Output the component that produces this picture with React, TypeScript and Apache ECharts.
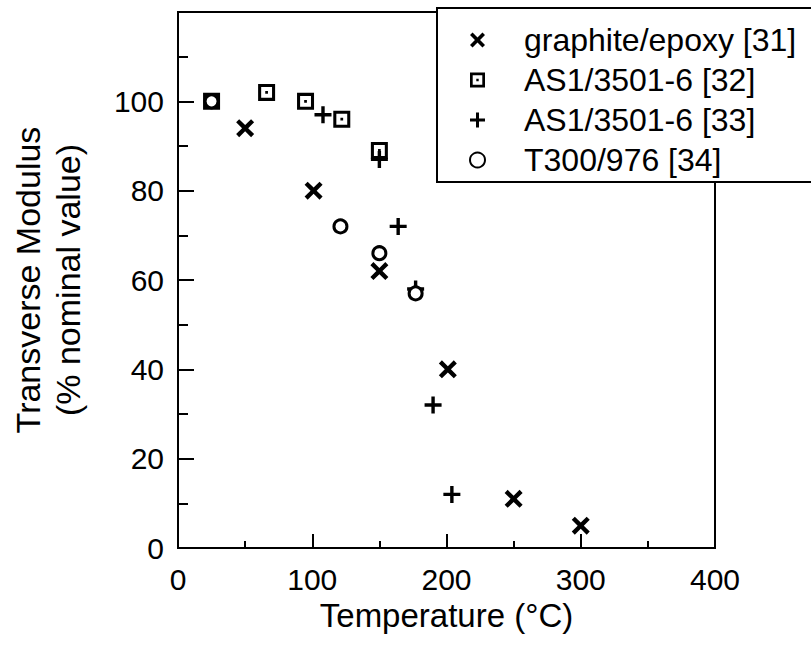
import React, { useEffect, useRef } from "react";
import * as echarts from "echarts";

const seriesNames = ["graphite/epoxy [31]", "AS1/3501-6 [32]", "AS1/3501-6 [33]", "T300/976 [34]"];
const graphiteEpoxy: [number, number][] = [[50, 94], [101, 80], [150, 62], [201, 40], [250, 11], [300, 5]];
const as1_32: [number, number][] = [[25, 100], [66, 102], [95, 100], [122, 96], [150, 89]];
const as1_33: [number, number][] = [[108, 97], [150, 87], [164, 72], [177, 58], [190, 32], [204, 12]];
const t300: [number, number][] = [[25, 100], [121, 72], [150, 66], [177, 57]];
const xTicks = [0, 100, 200, 300, 400];
const yTicks = [0, 20, 40, 60, 80, 100];

const FONT = "'Liberation Sans', Arial, Helvetica, sans-serif";

const X_PATH = "path://M0,17 L17,0 L50,33 L83,0 L100,17 L67,50 L100,83 L83,100 L50,67 L17,100 L0,83 L33,50 Z";
const PLUS_PATH = "path://M40,0 L60,0 L60,40 L100,40 L100,60 L60,60 L60,100 L40,100 L40,60 L0,60 L0,40 L40,40 Z";
const SQ_PATH = "path://M0,0 L100,0 L100,100 L0,100 Z M18,18 L18,82 L82,82 L82,18 Z M42,42 L58,42 L58,58 L42,58 Z";

export default function App() {
  const ref = useRef<HTMLDivElement>(null);
  useEffect(() => {
    document.body.style.margin = "0";
    if (!ref.current) return;
    const chart = echarts.init(ref.current, null, { renderer: "svg" });
    chart.setOption({
      animation: false,
      backgroundColor: "#fff",
      textStyle: { fontFamily: FONT, color: "#000" },
      grid: { left: 178, right: 96, top: 12, bottom: 101, show: true, borderColor: "#000", borderWidth: 2 },
      legend: {
        orient: "vertical",
        left: 437,
        top: 8,
        padding: [16, 30, 6, 32],
        itemGap: 8,
        itemWidth: 15,
        itemHeight: 15,
        backgroundColor: "#fff",
        borderColor: "#000",
        borderWidth: 2,
        borderRadius: 0,
        data: seriesNames,
        textStyle: { fontSize: 32, fontFamily: FONT, color: "#000", padding: [0, 0, 0, 34] },
      },
      xAxis: {
        type: "value",
        min: xTicks[0],
        max: xTicks[xTicks.length - 1],
        interval: 100,
        name: "Temperature (°C)",
        nameLocation: "middle",
        nameGap: 42,
        nameTextStyle: { fontSize: 33, fontFamily: FONT, color: "#000" },
        axisLine: { lineStyle: { color: "#000", width: 2 } },
        axisTick: { inside: true, length: 14, lineStyle: { color: "#000", width: 2 } },
        minorTick: { show: true, splitNumber: 2, length: 7, lineStyle: { color: "#000", width: 2 } },
        splitLine: { show: false },
        axisLabel: { fontSize: 30, fontFamily: FONT, color: "#000", margin: 16 },
      },
      yAxis: {
        type: "value",
        min: 0,
        max: 120,
        interval: 20,
        name: "Transverse Modulus\n(% nominal value)",
        nameLocation: "middle",
        nameGap: 90,
        nameTextStyle: { fontSize: 34, fontFamily: FONT, color: "#000", lineHeight: 40 },
        axisLine: { lineStyle: { color: "#000", width: 2 } },
        axisTick: { inside: true, length: 16, lineStyle: { color: "#000", width: 2 } },
        minorTick: { show: true, splitNumber: 2, length: 10, lineStyle: { color: "#000", width: 2 } },
        splitLine: { show: false },
        axisLabel: {
          fontSize: 30,
          fontFamily: FONT,
          color: "#000",
          margin: 14,
          formatter: (v: number) => (yTicks.includes(v) ? String(v) : ""),
        },
      },
      series: [
        {
          name: seriesNames[0],
          type: "scatter",
          data: graphiteEpoxy,
          symbol: X_PATH,
          symbolSize: 18,
          itemStyle: { color: "#000", opacity: 1 },
        },
        {
          name: seriesNames[1],
          type: "scatter",
          data: as1_32,
          symbol: SQ_PATH,
          symbolSize: 17,
          itemStyle: { color: "#000", opacity: 1 },
        },
        {
          name: seriesNames[2],
          type: "scatter",
          data: as1_33,
          symbol: PLUS_PATH,
          symbolSize: 17,
          itemStyle: { color: "#000", opacity: 1 },
        },
        {
          name: seriesNames[3],
          type: "scatter",
          data: t300,
          symbol: "circle",
          symbolSize: 13,
          itemStyle: { color: "#fff", borderColor: "#000", borderWidth: 3, opacity: 1 },
        },
      ],
    });
    return () => chart.dispose();
  }, []);
  return <div ref={ref} style={{ width: 811, height: 649 }} />;
}
